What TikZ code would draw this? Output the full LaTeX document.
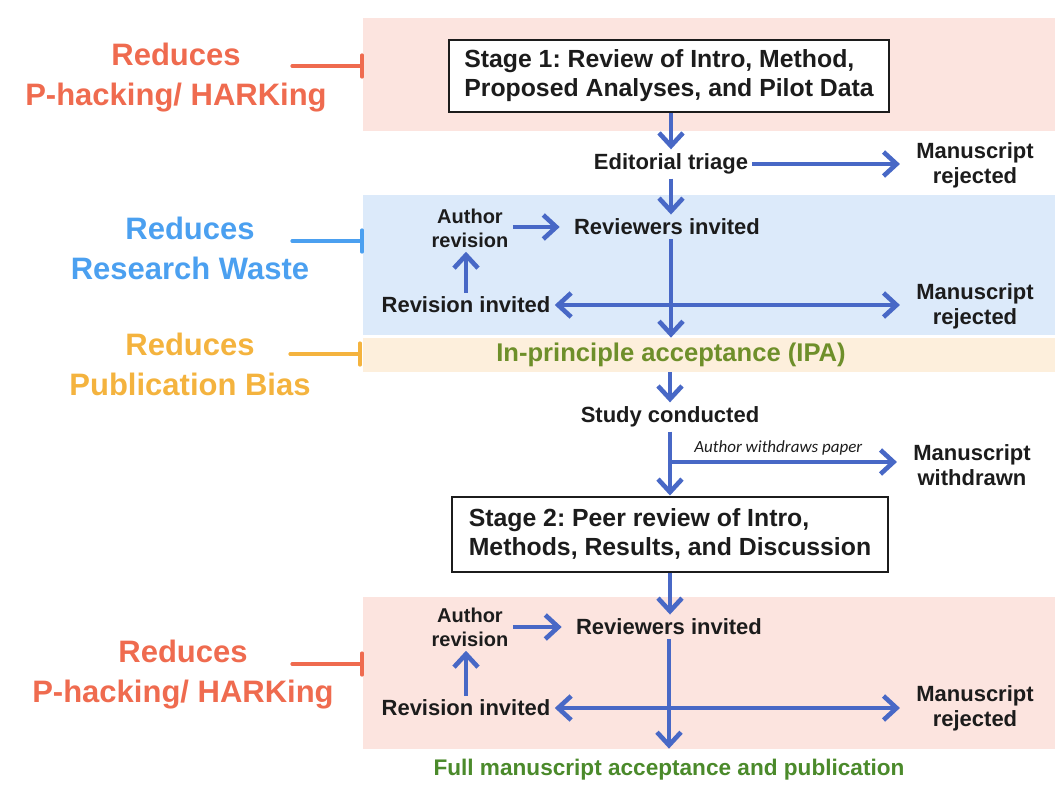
\documentclass[tikz,border=0pt]{standalone}
\usepackage{fontspec}
\setmainfont{Liberation Sans}
\newfontfamily\notefont{Carlito}
\usetikzlibrary{arrows.meta,
  positioning
}
\definecolor{pinkband}{HTML}{FCE4DF}
\definecolor{blueband}{HTML}{DCEAFA}
\definecolor{amberband}{HTML}{FDEFDC}
\definecolor{flowblue}{HTML}{4868C6}
\definecolor{salmon}{HTML}{EF6B4F}
\definecolor{skyblue}{HTML}{4BA0F0}
\definecolor{amber}{HTML}{F4B33E}
\definecolor{olive}{HTML}{6E8F2A}
\definecolor{leaf}{HTML}{4B8A2B}
\definecolor{ink}{HTML}{1C1C1C}
\newcommand*{\gainhook}[3]{%
  \draw[hook,#1] (#2,#3) -- ++(70,0) ++(0,-11) -- ++(0,22);
}
\frenchspacing

\begin{document}
\begin{tikzpicture}[x=0.5pt,y=-0.5pt,
  barb/.tip={Straight Barb[length=6.5pt,width=12pt]},
  flow/.style={draw=flowblue,line width=2.3pt,-barb},
  stagebox/.style={draw=ink,line width=1pt,fill=white,align=left,minimum width=220pt,
    minimum height=36pt,text=ink,font=\fontsize{12.4}{14.5}\selectfont\bfseries},
  lbl/.style={font=\fontsize{11}{12.5}\selectfont\bfseries,text=ink,align=center,inner sep=2pt},
  small/.style={font=\fontsize{10}{12}\selectfont\bfseries,text=ink,align=center,inner sep=2pt},
  note/.style={font=\fontsize{8.5}{9}\selectfont\notefont\itshape,text=ink,inner sep=0pt},
  gain/.style={font=\fontsize{15.5}{20}\selectfont\bfseries,align=center},
  hook/.style={line width=1.6pt,line cap=round}]
  \useasboundingbox (0,0) rectangle (1061,789);

  % bands
  \fill[pinkband] (363,18) rectangle (1055,131);
  \fill[blueband] (363,195) rectangle (1055,335);
  \fill[amberband] (363,338) rectangle (1055,372);
  \fill[pinkband] (363,597) rectangle (1055,749);

  % left side labels
  \node[gain,salmon] (gain1) at (176,78) {Reduces\\P-hacking/ HARKing};
  \node[gain,skyblue] (gain2) at (190,248) {Reduces\\Research Waste};
  \node[gain,amber] (gain3) at (190,364) {Reduces\\Publication Bias};
  \node[gain,salmon] (gain4) at (183,675) {Reduces\\P-hacking/ HARKing};
  \gainhook{salmon}{292}{66}
  \gainhook{skyblue}{292}{241}
  \gainhook{amber}{290}{354}
  \gainhook{salmon}{292}{664}

  % stage 1
  \node[stagebox] (stage1) at (669,76) {Stage 1: Review of Intro, Method,\\Proposed Analyses, and Pilot Data};
  \node[lbl] (triage) at (671,164) {Editorial triage};
  \node[lbl] (rej1) at (975,165) {Manuscript\\rejected};
  \node[lbl] (rev1) at (667,227) {Reviewers invited};
  \node[small] (auth1) at (470,228) {Author\\revision};
  \node[lbl] (revinv1) at (466,305) {Revision invited};
  \node[lbl] (rej2) at (975,306) {Manuscript\\rejected};
  \node[font=\fontsize{12.8}{14}\selectfont\bfseries,text=olive,minimum height=17pt,inner sep=0pt]
    (ipa) at (671,355) {In-principle acceptance (IPA)};

  \draw[flow] (stage1.south -| triage) -- (triage.north);
  \draw[flow,shorten >=6pt] (triage.east) -- (rej1.west |- triage.east);
  \draw[flow] (triage.south) -- (triage.south |- rev1.north);
  \draw[flow,shorten >=5pt] (auth1.east |- rev1) -- (rev1.west);
  \draw[flow] (revinv1.north) -- (revinv1.north |- auth1.south);
  \draw[flow] (rev1.south -| ipa.north) -- (ipa.north);
  \draw[flow,barb-barb,shorten >=6pt] (revinv1.east) -- (rej2.west |- revinv1.east);

  % study
  \node[lbl] (study) at (670,417) {Study conducted};
  \node[lbl] (withdrawn) at (972,465) {Manuscript\\withdrawn};
  \node[stagebox,minimum width=218pt,minimum height=37.5pt] (stage2) at (670,534)
    {Stage 2: Peer review of Intro,\\Methods, Results, and Discussion};
  \coordinate (quit) at (670,462);

  \draw[flow] (ipa.south -| study) -- (study.north);
  \draw[flow] (study.south) -- (stage2.north);
  \draw[flow,shorten >=6pt] (quit) -- node[note,pos=0,anchor=south west,xshift=11pt,yshift=2pt]
    {Author withdraws paper} (quit -| withdrawn.west);

  % stage 2
  \node[lbl] (rev2) at (669,627) {Reviewers invited};
  \node[small] (auth2) at (470,627) {Author\\revision};
  \node[lbl] (revinv2) at (466,708) {Revision invited};
  \node[lbl] (rej3) at (975,708) {Manuscript\\rejected};
  \node[font=\fontsize{11.3}{13}\selectfont\bfseries,text=leaf,minimum height=21pt,inner sep=0pt]
    (final) at (669,770) {Full manuscript acceptance and publication};

  \draw[flow] (stage2.south) -- (stage2.south |- rev2.north);
  \draw[flow,shorten >=5pt] (auth2.east |- rev2) -- (rev2.west);
  \draw[flow] (revinv2.north) -- (revinv2.north |- auth2.south);
  \draw[flow] (rev2.south -| final.north) -- (final.north);
  \draw[flow,barb-barb,shorten >=6pt] (revinv2.east) -- (rej3.west |- revinv2.east);
\end{tikzpicture}
\end{document}
